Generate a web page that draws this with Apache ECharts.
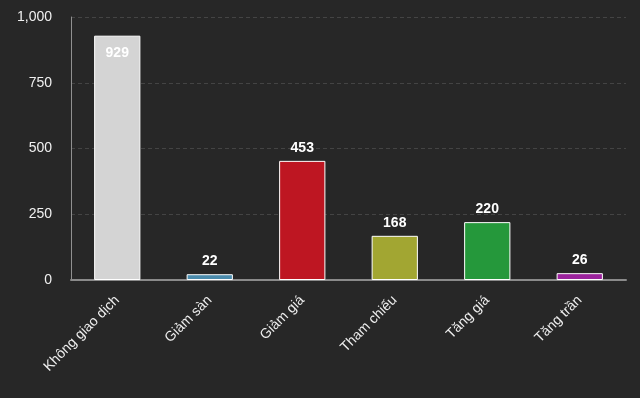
<!DOCTYPE html>
<html>
<head>
<meta charset="utf-8">
<script src="https://cdn.jsdelivr.net/npm/echarts@6/dist/echarts.min.js"></script>
<style>
  html, body { margin: 0; padding: 0; background: #272727; }
  #chart { width: 640px; height: 398px; }
</style>
</head>
<body>
<div id="chart"></div>
<script>
  const categories = ['Không giao dịch', 'Giảm sàn', 'Giảm giá', 'Tham chiếu', 'Tăng giá', 'Tăng trần'];
  const values = [929, 22, 453, 168, 220, 26];
  const colors = ['#d4d4d4', '#4a8bac', '#be1622', '#a2a632', '#25983b', '#9b229c'];
  const yTicks = [0, 250, 500, 750, 1000];

  const chart = echarts.init(document.getElementById('chart'));
  const font = 'Liberation Sans, Arial, sans-serif';

  chart.setOption({
    backgroundColor: '#272727',
    animation: false,
    grid: { left: 71, right: 14, top: 17, bottom: 118 },
    xAxis: {
      type: 'category',
      data: categories,
      axisLine: { lineStyle: { color: '#8a8a8a', width: 2 } },
      axisTick: { length: 12, lineStyle: { color: '#b8bcc8', width: 1 } },
      axisLabel: {
        rotate: 45,
        color: '#eeeeee',
        fontSize: 14,
        fontFamily: font,
        margin: 18
      }
    },
    yAxis: {
      type: 'value',
      min: yTicks[0],
      max: yTicks[yTicks.length - 1],
      interval: 250,
      axisLine: { show: true, lineStyle: { color: '#909090', width: 1 } },
      axisTick: { show: false },
      axisLabel: {
        color: '#f0f0f0',
        fontSize: 14,
        fontFamily: font,
        margin: 19,
        formatter: v => v.toLocaleString('en-US')
      },
      splitLine: { lineStyle: { color: '#444', type: [4, 3] } }
    },
    series: [{
      type: 'bar',
      barWidth: '50%',
      data: values.map((v, i) => ({
        value: v,
        itemStyle: { color: colors[i] },
        label: i === 0 ? { position: 'insideTop', distance: 10 } : undefined
      })),
      itemStyle: { borderColor: '#ffffff', borderWidth: 1 },
      label: {
        show: true,
        position: 'top',
        distance: 6,
        color: '#ffffff',
        fontSize: 14,
        fontWeight: 'bold',
        fontFamily: font
      }
    }]
  });
</script>
</body>
</html>
